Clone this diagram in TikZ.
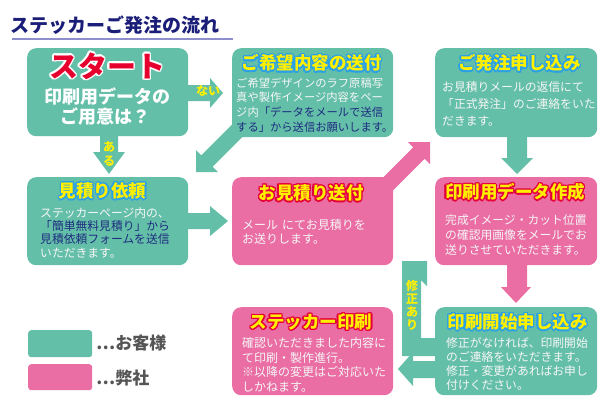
\documentclass[tikz,border=0pt]{standalone}
\usepackage{fontspec}
\setmainfont{Noto Sans CJK JP}
\definecolor{cgreen}{HTML}{64BFA8}
\definecolor{cpink}{HTML}{EA6DA4}
\definecolor{cnavy}{HTML}{1E2C80}
\definecolor{ctitle}{HTML}{1B1E78}
\definecolor{cline}{HTML}{8E8ECC}
\definecolor{cyel}{HTML}{FFF000}
\definecolor{cblue}{HTML}{2AA0E8}
\definecolor{cred}{HTML}{E5003A}
\definecolor{cstart}{HTML}{E6002D}
\definecolor{cbody}{HTML}{F6F6F6}
\definecolor{cleg}{HTML}{555555}
\newcommand{\otext}[8]{%
  \foreach \ang in {0,30,...,330}{%
    \node[inner sep=0, text=#6, shift={(\ang:#8)}, font=\bfseries\fontsize{#4}{#4}\selectfont] at (#2,#3) {#7};}
  \node[inner sep=0, text=#5, font=\bfseries\fontsize{#4}{#4}\selectfont] (#1) at (#2,#3) {#7};}
\newcommand{\bodytext}[6]{% name, x, y(first line centre), size, pitch, text
  \node[anchor=base west, inner sep=0, text=cbody] (#1) at (#2,#3+0.38*#4) {\parbox[t]{170pt}{\fontsize{#4}{#5}\selectfont #6}};}
\tikzset{
  box/.style={rounded corners=9pt, minimum height=88pt, anchor=north west, inner sep=0},
  gbox/.style={box, fill=cgreen},
  pbox/.style={box, fill=cpink},
  garrow/.style={fill=cgreen},
  parrow/.style={fill=cpink},
  lbl/.style={text=cyel, font=\bfseries\fontsize{12}{13.5}\selectfont, align=center, inner sep=0},
  legtext/.style={text=cleg, anchor=west, inner sep=0, font=\bfseries\fontsize{17}{17}\selectfont},
}
\begin{document}
\begin{tikzpicture}[x=1pt,y=-1pt]
\useasboundingbox (0,0) rectangle (613,408);
\fill[white] (0,0) rectangle (613,408);
% heading
\node[anchor=west, inner sep=0, text=ctitle, font=\bfseries\fontsize{19}{19}\selectfont] (head) at (10,25) {ステッカーご発注の流れ};
\coordinate (ulA) at (12,39);
\coordinate (ulB) at (233,39);
\draw[cline, line width=1.5pt] (ulA) -- (ulB);

% ---------- block arrows (drawn below the boxes)
% nai
\fill[garrow] (186,85) -- (210,85) -- (210,78) -- (223,93) -- (210,108) -- (210,101) -- (186,101) -- cycle;
% aru
\fill[garrow] (100,134) -- (118,134) -- (118,152) -- (125,152) -- (109,174) -- (93,152) -- (100,152) -- cycle;
% diagonal green (kibou -> mitsumori)
\fill[garrow] (196,172) -- (218,172) -- (212.7,166.7) -- (255.7,123.7) -- (244.3,112.3) -- (201.3,155.3) -- (196,150) -- cycle;
% mitsumori -> okuri
\fill[garrow] (186,213) -- (210,213) -- (210,206) -- (228,221) -- (210,236) -- (210,229) -- (186,229) -- cycle;
% diagonal pink (okuri -> hatchu)
\fill[parrow] (430,142) -- (430,164) -- (424.7,158.7) -- (374.7,208.7) -- (363.3,197.3) -- (413.3,147.3) -- (408,142) -- cycle;
% hatchu down
\fill[garrow] (507,135) -- (527,135) -- (527,158) -- (533,158) -- (517,174) -- (501,158) -- (507,158) -- cycle;
% data down
\fill[parrow] (507,263) -- (527,263) -- (527,287) -- (531,287) -- (516,303) -- (501,287) -- (507,287) -- cycle;
% shusei ari
\fill[garrow] (402,356) -- (402,261) -- (427,261) -- (427,286) -- (421,280) -- (421,338) -- (440,338) -- (440,356) -- cycle;
% kaishi -> insatsu
\fill[garrow] (440,361) -- (413,361) -- (413,352) -- (398,369) -- (413,386) -- (413,378) -- (440,378) -- cycle;

% ---------- boxes
\node[gbox, minimum width=161pt] (start) at (27,48) {};
\node[gbox, minimum width=161pt, minimum height=89pt] (kibou) at (232,48) {};
\node[gbox, minimum width=162pt, minimum height=89pt] (hatchu) at (435,48) {};
\node[gbox, minimum width=161pt] (mitsu) at (27,177) {};
\node[pbox, minimum width=161pt] (okuri) at (232,177) {};
\node[pbox, minimum width=162pt] (datasaku) at (435,177) {};
\node[gbox, minimum width=162pt] (kaishi) at (435,307) {};
\node[pbox, minimum width=161pt] (insatsu) at (232,307) {};

% ---------- arrow labels
\node[lbl] (nai) at (208,91) {ない};
\node[lbl] (aru) at (109,154) {あ\\る};
\node[lbl, font=\bfseries\fontsize{12}{13}\selectfont] (shusei) at (412,305) {修\\正\\あ\\り};

% ---------- start box
\otext{startT}{107}{66}{29}{cstart}{white}{スタート}{1.8pt}
\node[inner sep=0, text=white, font=\bfseries\fontsize{18}{18}\selectfont] (startA) at (107,97) {印刷用データの};
\node[inner sep=0, text=white, font=\bfseries\fontsize{18}{18}\selectfont] (startB) at (105,117) {ご用意は？};

% ---------- titles
\otext{kibouT}{311.5}{63}{17.5}{cyel}{cblue}{ご希望内容の送付}{1.4pt}
\otext{hatchuT}{519.5}{63}{17.5}{cyel}{cblue}{ご発注申し込み}{1.4pt}
\otext{mitsuT}{102.5}{191}{17.5}{cyel}{cblue}{見積り依頼}{1.4pt}
\otext{okuriT}{311}{193}{17.5}{cyel}{cred}{お見積り送付}{1.4pt}
\otext{datasakuT}{515}{192}{17.5}{cyel}{cred}{印刷用データ作成}{1.4pt}
\otext{kaishiT}{517.5}{322}{17.5}{cyel}{cblue}{印刷開始申し込み}{1.4pt}
\otext{insatsuT}{311}{322}{17.5}{cyel}{cred}{ステッカー印刷}{1.4pt}

% ---------- body texts
\bodytext{kibouB}{236}{83}{11.3}{14.7}{ご希望デザインのラフ原稿写\\真や製作イメージ内容をペー\\ジ内\textcolor{cnavy}{「データをメールで送信}\\\textcolor{cnavy}{する」から送信お願いします。}}
\bodytext{hatchuB}{442}{87}{11.8}{17}{お見積りメールの返信にて\\「正式発注」のご連絡をいた\\だきます。}
\bodytext{mitsuB}{40}{213}{11.8}{13.2}{ステッカーページ内の、\\\textcolor{cnavy}{「簡単無料見積り」から}\\\textcolor{cnavy}{見積依頼フォームを送信}\\いただきます。}
\bodytext{okuriB}{242}{225}{12}{13.5}{メール\hspace{4pt}にてお見積りを\\お送りします。}
\bodytext{datasakuB}{445}{220}{11.8}{15}{完成イメージ・カット位置\\の確認用画像をメールでお\\送りさせていただきます。}
\bodytext{kaishiB}{446}{343}{11.8}{14}{修正がなければ、印刷開始\\のご連絡をいただきます。\\修正・変更があればお申し\\付けください。}
\bodytext{insatsuB}{242}{343}{12}{14.7}{確認いただきました内容に\\て印刷・製作進行。\\※以降の変更はご対応いた\\しかねます。}

% ---------- legend
\node[fill=cgreen, rounded corners=3pt, minimum width=64pt, minimum height=27pt, anchor=north west, inner sep=0] (legG) at (28,330) {};
\node[fill=cpink, rounded corners=3pt, minimum width=64pt, minimum height=26pt, anchor=north west, inner sep=0] (legP) at (28,364) {};
\node[legtext] (legGT) at (96,343) {…お客様};
\node[legtext] (legPT) at (96,378) {…弊社};
\end{tikzpicture}
\end{document}
